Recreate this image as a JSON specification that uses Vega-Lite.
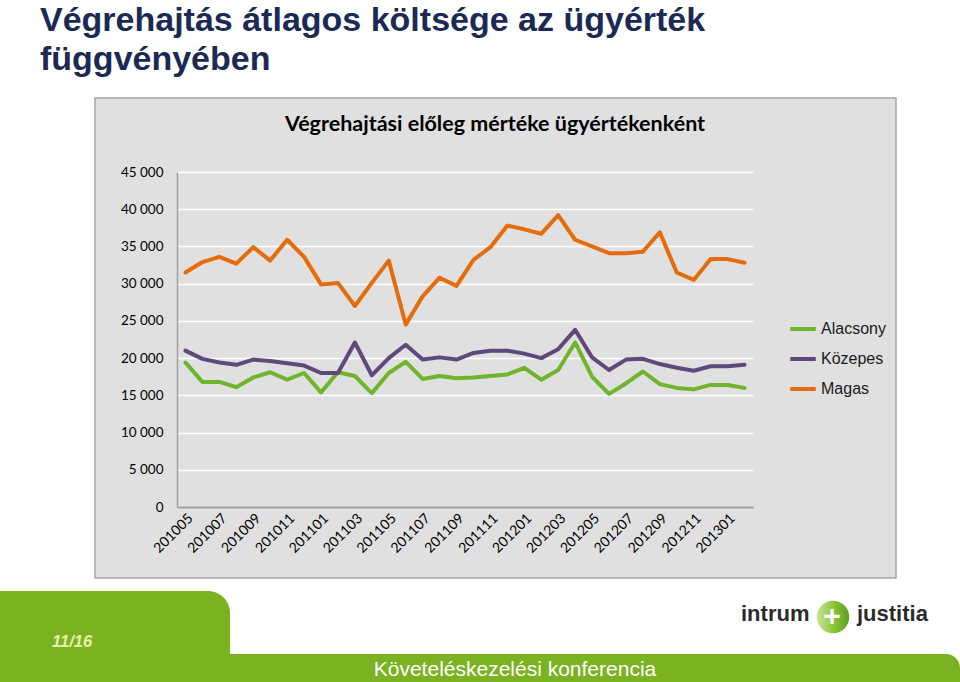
{
  "$schema": "https://vega.github.io/schema/vega-lite/v6.json",
  "width": 576,
  "height": 335,
  "autosize": "none",
  "padding": {"left": 177, "top": 172, "right": 207, "bottom": 175},
  "background": "#E0E0E0",
  "config": {"view": {"stroke": null}},
  "layer": [
    {"data": {"values": [{}]}, "mark": {"type": "rect", "fill": "#FFFFFF", "x": -177, "x2": 783, "y": -172, "y2": -74}},
    {"data": {"values": [{}]}, "mark": {"type": "rect", "fill": "#FFFFFF", "x": -177, "x2": 783, "y": 406, "y2": 510}},
    {"data": {"values": [{}]}, "mark": {"type": "rect", "fill": "#FFFFFF", "x": -177, "x2": -82, "y": -74, "y2": 406}},
    {"data": {"values": [{}]}, "mark": {"type": "rect", "fill": "#FFFFFF", "x": 719, "x2": 783, "y": -74, "y2": 406}},
    {"data": {"values": [{}]}, "mark": {"type": "rect", "fill": "transparent", "stroke": "#A6A6A6", "strokeWidth": 1.5, "x": -82, "x2": 719, "y": -74, "y2": 406}},
    {"data": {"values": [{}]}, "mark": {"type": "rect", "fill": "#7BB222", "cornerRadiusTopRight": 22, "x": -177, "x2": 53, "y": 419, "y2": 510}},
    {"data": {"values": [{}]}, "mark": {"type": "rect", "fill": "#7BB222", "cornerRadiusTopRight": 26, "x": -177, "x2": 783, "y": 482, "y2": 510}},
    {"data": {"values": [{}]}, "mark": {"type": "text", "text": ["Végrehajtás átlagos költsége az ügyérték", "függvényében"], "x": -137, "y": -141, "align": "left", "baseline": "alphabetic", "font": "Liberation Sans", "fontSize": 34, "fontWeight": "bold", "lineHeight": 39, "fill": "#1B2A55"}},
    {"data": {"values": [{}]}, "mark": {"type": "text", "text": "Végrehajtási előleg mértéke ügyértékenként", "x": 318, "y": -41, "align": "center", "baseline": "alphabetic", "font": "Lato", "fontSize": 21.5, "fontWeight": "bold", "fill": "#000000"}},
    {"data": {"values": [{}]}, "mark": {"type": "text", "text": "11/16", "x": -125, "y": 475, "align": "left", "baseline": "alphabetic", "font": "Liberation Sans", "fontSize": 16.5, "fontWeight": "bold", "fontStyle": "italic", "fill": "#E8F2A8"}},
    {"data": {"values": [{}]}, "mark": {"type": "text", "text": "Követeléskezelési konferencia", "x": 338, "y": 504, "align": "center", "baseline": "alphabetic", "font": "Liberation Sans Narrow, Liberation Sans", "fontSize": 21, "fill": "#FFFFFF"}},
    {"data": {"values": [{}]}, "mark": {"type": "text", "text": "intrum", "x": 564, "y": 449, "align": "left", "baseline": "alphabetic", "font": "Liberation Sans", "fontSize": 22, "fontWeight": "bold", "fill": "#2B2B2B"}},
    {"data": {"values": [{}]}, "mark": {"type": "text", "text": "justitia", "x": 680, "y": 449, "align": "left", "baseline": "alphabetic", "font": "Liberation Sans", "fontSize": 22, "fontWeight": "bold", "fill": "#2B2B2B"}},
    {"data": {"values": [{}]}, "mark": {"type": "point", "shape": "circle", "filled": true, "size": 1050, "opacity": 1, "x": 656, "y": 445, "fill": {"gradient": "linear", "x1": 0, "y1": 0, "x2": 1, "y2": 0, "stops": [{"offset": 0, "color": "#C9E59A"}, {"offset": 0.5, "color": "#8CC63F"}, {"offset": 1, "color": "#5E9E1E"}]}}},
    {"data": {"values": [{}]}, "mark": {"type": "text", "text": "+", "x": 655, "y": 454, "align": "center", "baseline": "alphabetic", "font": "Liberation Sans", "fontSize": 30, "fontWeight": "bold", "fill": "#FFFFFF"}},
    {
      "data": {
        "values": [
          {"honap": "201005", "Alacsony": 19400, "Közepes": 21000, "Magas": 31500},
          {"honap": "201006", "Alacsony": 16800, "Közepes": 19900, "Magas": 32900},
          {"honap": "201007", "Alacsony": 16800, "Közepes": 19400, "Magas": 33600},
          {"honap": "201008", "Alacsony": 16100, "Közepes": 19100, "Magas": 32700},
          {"honap": "201009", "Alacsony": 17400, "Közepes": 19800, "Magas": 34900},
          {"honap": "201010", "Alacsony": 18100, "Közepes": 19600, "Magas": 33100},
          {"honap": "201011", "Alacsony": 17100, "Közepes": 19300, "Magas": 35900},
          {"honap": "201012", "Alacsony": 18000, "Közepes": 19000, "Magas": 33600},
          {"honap": "201101", "Alacsony": 15400, "Közepes": 18000, "Magas": 29900},
          {"honap": "201102", "Alacsony": 18100, "Közepes": 18000, "Magas": 30100},
          {"honap": "201103", "Alacsony": 17600, "Közepes": 22100, "Magas": 27000},
          {"honap": "201104", "Alacsony": 15300, "Közepes": 17700, "Magas": 30100},
          {"honap": "201105", "Alacsony": 18000, "Közepes": 20000, "Magas": 33100},
          {"honap": "201106", "Alacsony": 19500, "Közepes": 21800, "Magas": 24500},
          {"honap": "201107", "Alacsony": 17200, "Közepes": 19800, "Magas": 28300},
          {"honap": "201108", "Alacsony": 17600, "Közepes": 20100, "Magas": 30800},
          {"honap": "201109", "Alacsony": 17300, "Közepes": 19800, "Magas": 29700},
          {"honap": "201110", "Alacsony": 17400, "Közepes": 20700, "Magas": 33200},
          {"honap": "201111", "Alacsony": 17600, "Közepes": 21000, "Magas": 34900},
          {"honap": "201112", "Alacsony": 17800, "Közepes": 21000, "Magas": 37800},
          {"honap": "201201", "Alacsony": 18700, "Közepes": 20600, "Magas": 37300},
          {"honap": "201202", "Alacsony": 17100, "Közepes": 20000, "Magas": 36700},
          {"honap": "201203", "Alacsony": 18400, "Közepes": 21200, "Magas": 39200},
          {"honap": "201204", "Alacsony": 22100, "Közepes": 23800, "Magas": 35900},
          {"honap": "201205", "Alacsony": 17500, "Közepes": 20100, "Magas": 35000},
          {"honap": "201206", "Alacsony": 15200, "Közepes": 18400, "Magas": 34100},
          {"honap": "201207", "Alacsony": 16600, "Közepes": 19800, "Magas": 34100},
          {"honap": "201208", "Alacsony": 18200, "Közepes": 19900, "Magas": 34300},
          {"honap": "201209", "Alacsony": 16500, "Közepes": 19200, "Magas": 36900},
          {"honap": "201210", "Alacsony": 16000, "Közepes": 18700, "Magas": 31500},
          {"honap": "201211", "Alacsony": 15800, "Közepes": 18300, "Magas": 30500},
          {"honap": "201212", "Alacsony": 16400, "Közepes": 18900, "Magas": 33300},
          {"honap": "201301", "Alacsony": 16400, "Közepes": 18900, "Magas": 33300},
          {"honap": "201302", "Alacsony": 16000, "Közepes": 19100, "Magas": 32800}
        ]
      },
      "transform": [{"fold": ["Alacsony", "Közepes", "Magas"], "as": ["kategoria", "ertek"]}],
      "mark": {"type": "line", "strokeWidth": 4, "strokeJoin": "round", "strokeCap": "round"},
      "encoding": {
        "x": {
          "field": "honap",
          "type": "ordinal",
          "title": null,
          "scale": {"padding": 0.5},
          "axis": {
            "values": ["201005", "201007", "201009", "201011", "201101", "201103", "201105", "201107", "201109", "201111", "201201", "201203", "201205", "201207", "201209", "201211", "201301"],
            "labelAngle": -45,
            "labelFont": "Lato",
            "labelFontSize": 14,
            "labelColor": "#000000",
            "labelPadding": 4,
            "ticks": false,
            "domainColor": "#A0A0A0",
            "domainWidth": 1.5,
            "grid": false
          }
        },
        "y": {
          "field": "ertek",
          "type": "quantitative",
          "title": null,
          "scale": {"domain": [0, 45000], "nice": false, "zero": true},
          "axis": {
            "values": [0, 5000, 10000, 15000, 20000, 25000, 30000, 35000, 40000, 45000],
            "labelExpr": "replace(format(datum.value, ','), ',', ' ')",
            "labelFont": "Lato",
            "labelFontSize": 13.5,
            "labelColor": "#000000",
            "labelPadding": 14,
            "ticks": false,
            "domainColor": "#A0A0A0",
            "domainWidth": 1.5,
            "grid": true,
            "gridColor": {"condition": {"test": "datum.value === 0", "value": "#A0A0A0"}, "value": "#FFFFFF"},
            "gridWidth": 1.5
          }
        },
        "color": {
          "field": "kategoria",
          "type": "nominal",
          "scale": {"domain": ["Alacsony", "Közepes", "Magas"], "range": ["#6FB42C", "#5F497A", "#E46C0A"]},
          "legend": {
            "title": null,
            "orient": "none",
            "legendX": 611,
            "legendY": 142,
            "symbolType": "stroke",
            "symbolSize": 650,
            "symbolStrokeWidth": 4,
            "labelFont": "Liberation Sans",
            "labelFontSize": 16,
            "labelColor": "#1A1A1A",
            "labelOffset": 3,
            "rowPadding": 7
          }
        }
      }
    }
  ]
}
